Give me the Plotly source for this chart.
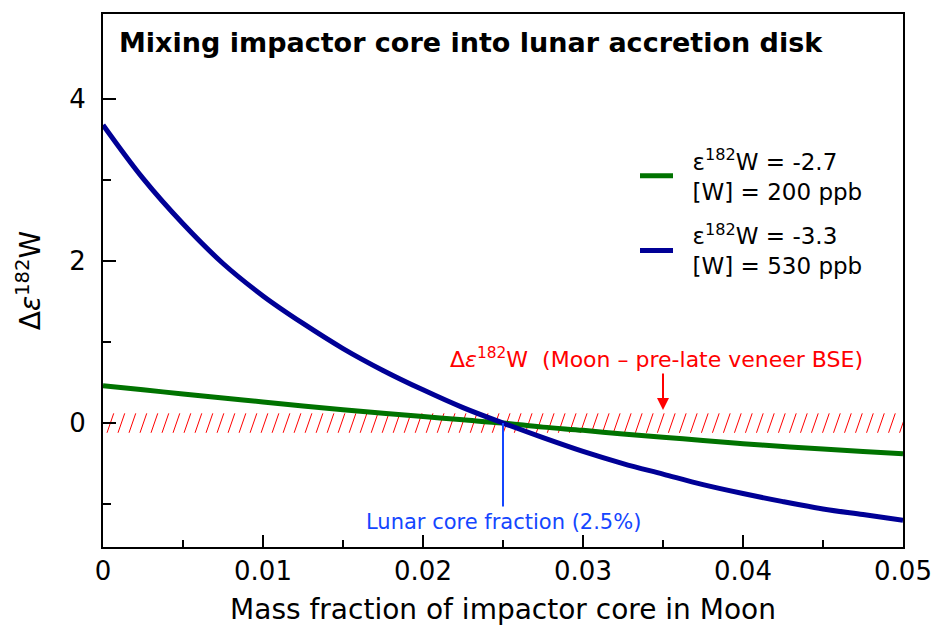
import numpy as np
import plotly.graph_objects as go

# Mass fraction of impactor core mixed into the Moon
core_fraction = [0.0, 0.0025, 0.005, 0.0075, 0.01, 0.0125, 0.015, 0.0175, 0.02, 0.0225,
                 0.025, 0.0275, 0.03, 0.0325, 0.035, 0.0375, 0.04, 0.0425, 0.045, 0.0475, 0.05]

# Delta epsilon-182W of the mixture for two impactor-core compositions
dw_green = [0.46, 0.41, 0.36, 0.31, 0.26, 0.21, 0.165, 0.12, 0.08, 0.04,
            0.0, -0.05, -0.09, -0.135, -0.175, -0.215, -0.255, -0.29, -0.32, -0.35, -0.38]
dw_blue = [3.68, 3.02, 2.46, 1.97, 1.57, 1.23, 0.92, 0.65, 0.41, 0.19,
           0.0, -0.18, -0.35, -0.50, -0.63, -0.76, -0.87, -0.97, -1.06, -1.13, -1.20]

# Moon minus pre-late-veneer BSE band
band_low, band_high = -0.12, 0.12
arrow_x, arrow_tail, arrow_head = 0.035, 0.63, 0.16

# Lunar core fraction marker
lunar_core = 0.025
marker_bottom = -1.03

legend_green = "&nbsp;&nbsp;ε<sup>182</sup>W = -2.7<br>&nbsp;&nbsp;[W] = 200 ppb"
legend_blue = "&nbsp;&nbsp;ε<sup>182</sup>W = -3.3<br>&nbsp;&nbsp;[W] = 530 ppb"

FONT = "DejaVu Sans, Liberation Sans, Arial, sans-serif"
GREEN = "#007300"
NAVY = "#000096"
RED = "#ff0000"
BRIGHT_BLUE = "#1446ff"

x_range = [0.0, 0.05]
y_range = [-1.53, 5.05]

fig = go.Figure()

# hatch strokes for the band (steep "/" strokes)
step = 0.000688
lean = 0.00042
hx, hy = [], []
x0 = 0.00025
while x0 < x_range[1] + lean:
    xa, ya, xb, yb = x0, band_low, x0 + lean, band_high
    if xa < x_range[0]:
        ya = band_low + (x_range[0] - xa) / lean * (band_high - band_low)
        xa = x_range[0]
    hx += [xa, xb, None]
    hy += [ya, yb, None]
    x0 += step
fig.add_trace(go.Scatter(x=hx, y=hy, mode="lines", line=dict(color=RED, width=1),
                         showlegend=False, hoverinfo="skip"))

fig.add_trace(go.Scatter(x=core_fraction, y=dw_green, mode="lines", name=legend_green,
                         line=dict(color=GREEN, width=5, shape="spline"), legendgroup="g"))
fig.add_trace(go.Scatter(x=core_fraction, y=dw_blue, mode="lines", name=legend_blue,
                         line=dict(color=NAVY, width=5, shape="spline"), legendgroup="b"))

# lunar core fraction marker line
fig.add_trace(go.Scatter(x=[lunar_core, lunar_core], y=[0, marker_bottom], mode="lines",
                         line=dict(color=BRIGHT_BLUE, width=2), showlegend=False,
                         hoverinfo="skip"))

fig.add_annotation(x=lunar_core, y=-1.22, text="Lunar core fraction (2.5%)", showarrow=False,
                   font=dict(family=FONT, size=21, color=BRIGHT_BLUE))

fig.add_annotation(x=arrow_x, y=arrow_head, ax=arrow_x, ay=arrow_tail, xref="x", yref="y",
                   axref="x", ayref="y", text="", showarrow=True, arrowhead=2,
                   arrowsize=1.2, arrowwidth=2, arrowcolor=RED)
fig.add_annotation(x=0.0346, y=0.80,
                   text="Δ<i>ε</i><sup>182</sup>W  (Moon – pre-late veneer BSE)",
                   showarrow=False, font=dict(family=FONT, size=22, color=RED))

fig.add_annotation(x=0.000875, y=4.70, xanchor="left", yanchor="middle",
                   text="<b>Mixing impactor core into lunar accretion disk</b>",
                   showarrow=False, font=dict(family=FONT, size=27, color="black"))

fig.update_layout(
    width=935, height=634,
    margin=dict(l=103, r=32, t=14, b=87),
    plot_bgcolor="white", paper_bgcolor="white",
    font=dict(family=FONT, size=26, color="black"),
    legend=dict(x=0.665, y=0.765, xanchor="left", yanchor="top",
                font=dict(family=FONT, size=23), bgcolor="rgba(0,0,0,0)",
                tracegroupgap=12, itemwidth=33),
    showlegend=True,
)
fig.update_xaxes(range=x_range, showgrid=False, zeroline=False, automargin=False,
                 showline=True, linecolor="black", linewidth=2, mirror=True,
                 ticks="inside", ticklen=12, tickwidth=2, tickcolor="black",
                 tickvals=[0, 0.01, 0.02, 0.03, 0.04, 0.05],
                 ticktext=["0", "0.01", "0.02", "0.03", "0.04", "0.05"],
                 minor=dict(ticks="inside", ticklen=7, tickwidth=2, tickcolor="black",
                            dtick=0.005, showgrid=False),
                 ticklabelstandoff=0,
                 title=dict(text="Mass fraction of impactor core in Moon", standoff=14,
                            font=dict(size=28)))
fig.update_yaxes(range=y_range, showgrid=False, zeroline=False, automargin=False,
                 showline=True, linecolor="black", linewidth=2, mirror=True,
                 ticks="inside", ticklen=13, tickwidth=2, tickcolor="black",
                 tickvals=[0, 2, 4], ticktext=["0", "2", "4"],
                 minor=dict(ticks="inside", ticklen=8, tickwidth=2, tickcolor="black",
                            tickvals=[-1, 1, 3], showgrid=False),
                 ticklabelstandoff=10,
                 title=dict(text="Δ<i>ε</i><sup>182</sup>W", standoff=20, font=dict(size=28)))

fig.write_html("out.html")
